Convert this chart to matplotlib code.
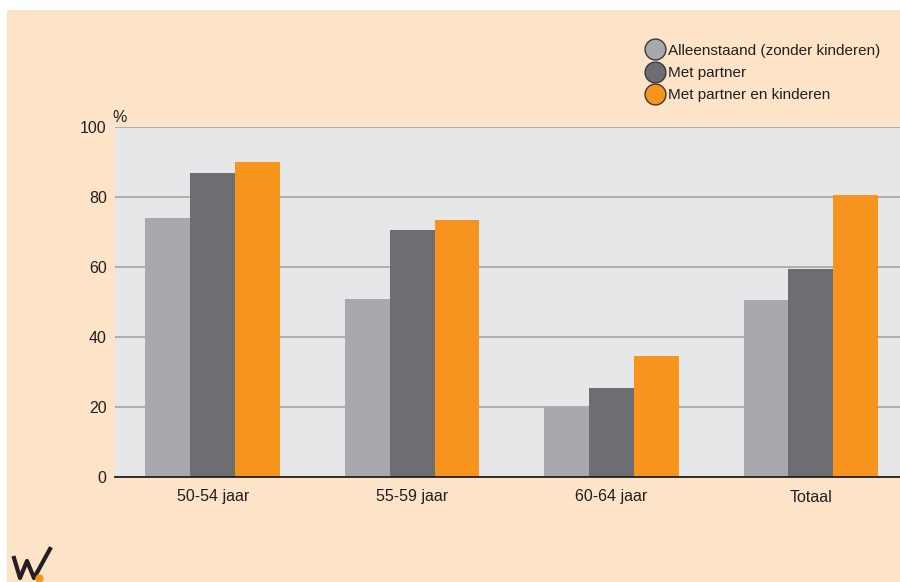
import numpy as np
import matplotlib
matplotlib.use('Agg')
import matplotlib.pyplot as plt
from matplotlib.lines import Line2D
from matplotlib.patches import Rectangle

plt.rcParams['font.family'] = ['Liberation Sans', 'DejaVu Sans']

# data
categories = ['50-54 jaar', '55-59 jaar', '60-64 jaar', 'Totaal']
series_names = ['Alleenstaand (zonder kinderen)', 'Met partner',
                'Met partner en kinderen']
alleenstaand = [74, 51, 20, 50.5]
met_partner = [87, 70.5, 25.5, 59.5]
met_kinderen = [90, 73.5, 34.5, 80.5]
yticks = [0, 20, 40, 60, 80, 100]

colors = ['#a7a9ac', '#6d6e71', '#f7941d']
peach = '#fde3c8'

W, H = 900, 582
fig = plt.figure(figsize=(W / 100, H / 100), dpi=100)
fig.patch.set_facecolor('white')
# peach background panel
fig.patches.append(Rectangle((7 / W, 0), 1, 1 - 10 / H, transform=fig.transFigure,
                             facecolor=peach, edgecolor='none', zorder=-5))

ax = fig.add_axes([115 / W, 1 - 477 / H, (900 - 115) / W, (477 - 127) / H])
ax.set_zorder(2)
ax.set_facecolor('#e6e7e9')

x = np.arange(len(categories))
width = 0.225
for i, (vals, c) in enumerate(zip([alleenstaand, met_partner, met_kinderen], colors)):
    ax.bar(x + (i - 1) * width, vals, width, color=c, zorder=3)

ax.set_xlim(-0.49, 3.447)
ax.set_ylim(0, 100)
ax.set_yticks(yticks)
ax.set_yticklabels([str(t) for t in yticks])
ax.set_xticks(x)
ax.set_xticklabels(categories)
ax.tick_params(length=0, labelsize=11.5, colors='#231f20', pad=6)
ax.tick_params(axis='x', pad=9)
ax.yaxis.grid(True, color='#a3a3a3', linewidth=1.2, zorder=1)
ax.set_axisbelow(True)
for s in ['top', 'right', 'left']:
    ax.spines[s].set_visible(False)
ax.spines['bottom'].set_color('#231f20')
ax.spines['bottom'].set_linewidth(1.3)
ax.spines['bottom'].set_zorder(5)

fig.text(112 / W, 1 - 117 / H, '%', fontsize=11.5, color='#231f20',
         va='center', ha='left')

handles = [Line2D([], [], marker='o', linestyle='none', markersize=15,
                  markerfacecolor=c, markeredgecolor='#3a3a3a',
                  markeredgewidth=1.0) for c in colors]
fig.legend(handles, series_names, loc='upper left',
           bbox_to_anchor=(637 / W, 1 - 36 / H), frameon=False,
           fontsize=11, handletextpad=0.2, labelspacing=0.55,
           borderpad=0, handlelength=1.3, labelcolor='#231f20')

# logo
lx = np.array([14, 20, 27, 34, 50]) / W
ly = 1 - np.array([558, 578, 561, 578, 549]) / H
fig.add_artist(Line2D(lx, ly, color='#231f20', linewidth=3,
                      solid_joinstyle='round', transform=fig.transFigure))
fig.add_artist(Line2D([39 / W], [1 - 578 / H], marker='o', markersize=5,
                      color='#f7941d', transform=fig.transFigure))

fig.savefig('out.png', dpi=100, facecolor=fig.get_facecolor())
